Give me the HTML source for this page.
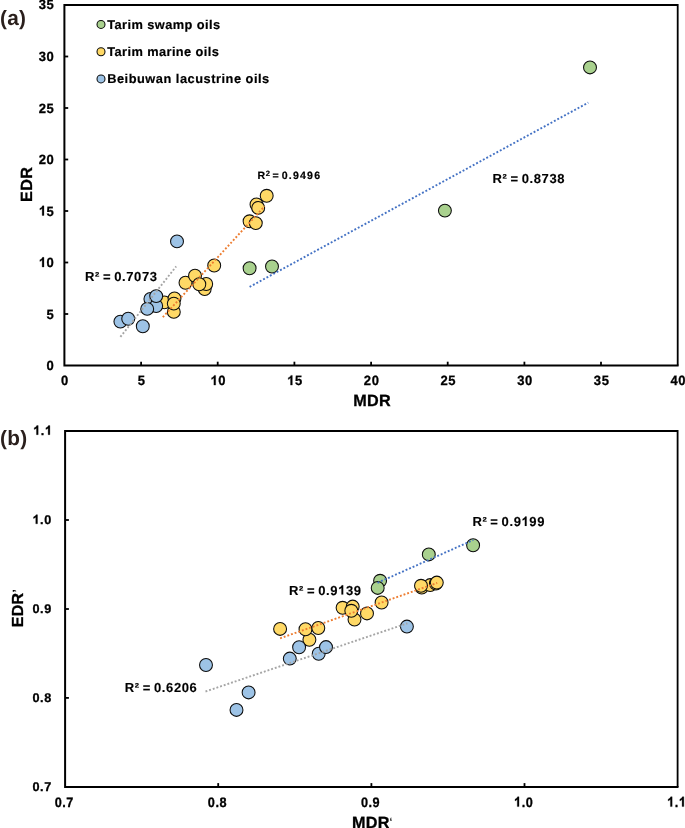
<!DOCTYPE html>
<html><head><meta charset="utf-8"><title>EDR vs MDR</title>
<style>
html,body{margin:0;padding:0;background:#fff;}
body{width:685px;height:828px;overflow:hidden;}
svg{display:block;will-change:transform;text-rendering:geometricPrecision;font-family:"Liberation Sans",sans-serif;font-weight:bold;}
</style></head><body>
<svg width="685" height="828" viewBox="0 0 685 828">
<rect width="685" height="828" fill="#fff"/>
<path d="M64.4,5.0 H677.7 V365.5" fill="none" stroke="#000" stroke-width="1.8"/>
<path d="M64.4,4.1 V365.5 H678.6" fill="none" stroke="#000" stroke-width="2.0" stroke-linejoin="miter"/>
<line x1="141.1" y1="365.5" x2="141.1" y2="361.7" stroke="#000" stroke-width="1.8"/>
<line x1="217.7" y1="365.5" x2="217.7" y2="361.7" stroke="#000" stroke-width="1.8"/>
<line x1="294.4" y1="365.5" x2="294.4" y2="361.7" stroke="#000" stroke-width="1.8"/>
<line x1="371.1" y1="365.5" x2="371.1" y2="361.7" stroke="#000" stroke-width="1.8"/>
<line x1="447.7" y1="365.5" x2="447.7" y2="361.7" stroke="#000" stroke-width="1.8"/>
<line x1="524.4" y1="365.5" x2="524.4" y2="361.7" stroke="#000" stroke-width="1.8"/>
<line x1="601.0" y1="365.5" x2="601.0" y2="361.7" stroke="#000" stroke-width="1.8"/>
<line x1="64.4" y1="314.0" x2="68.2" y2="314.0" stroke="#000" stroke-width="1.8"/>
<line x1="64.4" y1="262.5" x2="68.2" y2="262.5" stroke="#000" stroke-width="1.8"/>
<line x1="64.4" y1="211.0" x2="68.2" y2="211.0" stroke="#000" stroke-width="1.8"/>
<line x1="64.4" y1="159.5" x2="68.2" y2="159.5" stroke="#000" stroke-width="1.8"/>
<line x1="64.4" y1="108.0" x2="68.2" y2="108.0" stroke="#000" stroke-width="1.8"/>
<line x1="64.4" y1="56.5" x2="68.2" y2="56.5" stroke="#000" stroke-width="1.8"/>
<text transform="translate(65.00,385.10) scale(1,1.04)" font-size="13" text-anchor="middle" letter-spacing="0.55" fill="#000" stroke="#000" stroke-width="0.28">0</text>
<text transform="translate(141.66,385.10) scale(1,1.04)" font-size="13" text-anchor="middle" letter-spacing="0.55" fill="#000" stroke="#000" stroke-width="0.28">5</text>
<path transform="translate(210.55,385.10) scale(0.00635,0.00660)" d="M806,0H525V-1059Q371,-915 162,-846V-1101Q272,-1137 401,-1237.5Q530,-1338 578,-1472H806Z" fill="#000" stroke="#000" stroke-width="44.1"/>
<text transform="translate(218.33,385.10) scale(1,1.04)" font-size="13" text-anchor="start" letter-spacing="0.55" fill="#000" stroke="#000" stroke-width="0.28">0</text>
<path transform="translate(287.21,385.10) scale(0.00635,0.00660)" d="M806,0H525V-1059Q371,-915 162,-846V-1101Q272,-1137 401,-1237.5Q530,-1338 578,-1472H806Z" fill="#000" stroke="#000" stroke-width="44.1"/>
<text transform="translate(294.99,385.10) scale(1,1.04)" font-size="13" text-anchor="start" letter-spacing="0.55" fill="#000" stroke="#000" stroke-width="0.28">5</text>
<text transform="translate(371.65,385.10) scale(1,1.04)" font-size="13" text-anchor="middle" letter-spacing="0.55" fill="#000" stroke="#000" stroke-width="0.28">20</text>
<text transform="translate(448.31,385.10) scale(1,1.04)" font-size="13" text-anchor="middle" letter-spacing="0.55" fill="#000" stroke="#000" stroke-width="0.28">25</text>
<text transform="translate(524.98,385.10) scale(1,1.04)" font-size="13" text-anchor="middle" letter-spacing="0.55" fill="#000" stroke="#000" stroke-width="0.28">30</text>
<text transform="translate(601.64,385.10) scale(1,1.04)" font-size="13" text-anchor="middle" letter-spacing="0.55" fill="#000" stroke="#000" stroke-width="0.28">35</text>
<text transform="translate(678.30,385.10) scale(1,1.04)" font-size="13" text-anchor="middle" letter-spacing="0.55" fill="#000" stroke="#000" stroke-width="0.28">40</text>
<text transform="translate(54.40,370.00) scale(1,1.03)" font-size="13" text-anchor="end" letter-spacing="0.55" fill="#000" stroke="#000" stroke-width="0.28">0</text>
<text transform="translate(54.40,318.50) scale(1,1.03)" font-size="13" text-anchor="end" letter-spacing="0.55" fill="#000" stroke="#000" stroke-width="0.28">5</text>
<path transform="translate(38.84,267.00) scale(0.00635,0.00654)" d="M806,0H525V-1059Q371,-915 162,-846V-1101Q272,-1137 401,-1237.5Q530,-1338 578,-1472H806Z" fill="#000" stroke="#000" stroke-width="44.1"/>
<text transform="translate(46.62,267.00) scale(1,1.03)" font-size="13" text-anchor="start" letter-spacing="0.55" fill="#000" stroke="#000" stroke-width="0.28">0</text>
<path transform="translate(38.84,215.50) scale(0.00635,0.00654)" d="M806,0H525V-1059Q371,-915 162,-846V-1101Q272,-1137 401,-1237.5Q530,-1338 578,-1472H806Z" fill="#000" stroke="#000" stroke-width="44.1"/>
<text transform="translate(46.62,215.50) scale(1,1.03)" font-size="13" text-anchor="start" letter-spacing="0.55" fill="#000" stroke="#000" stroke-width="0.28">5</text>
<text transform="translate(54.40,164.00) scale(1,1.03)" font-size="13" text-anchor="end" letter-spacing="0.55" fill="#000" stroke="#000" stroke-width="0.28">20</text>
<text transform="translate(54.40,112.50) scale(1,1.03)" font-size="13" text-anchor="end" letter-spacing="0.55" fill="#000" stroke="#000" stroke-width="0.28">25</text>
<text transform="translate(54.40,61.00) scale(1,1.03)" font-size="13" text-anchor="end" letter-spacing="0.55" fill="#000" stroke="#000" stroke-width="0.28">30</text>
<text transform="translate(54.40,8.80) scale(1,1.03)" font-size="13" text-anchor="end" letter-spacing="0.55" fill="#000" stroke="#000" stroke-width="0.28">35</text>
<text x="372.10" y="405.90" font-size="16.2" text-anchor="middle" letter-spacing="0.35" fill="#000" stroke="#000" stroke-width="0.3">MDR</text>
<text transform="translate(32.2,184.3) rotate(-90)" font-size="16.2" text-anchor="middle" letter-spacing="0.35" stroke="#000" stroke-width="0.3">EDR</text>
<text x="-0.10" y="25.00" font-size="20.8" text-anchor="start" letter-spacing="0.3" fill="#2a1f1c" >(a)</text>
<circle cx="164.4" cy="302.4" r="6.45" fill="#ffd966" stroke="#0c0c0c" stroke-width="1.05"/>
<circle cx="174.5" cy="298.4" r="6.45" fill="#ffd966" stroke="#0c0c0c" stroke-width="1.05"/>
<circle cx="173.8" cy="311.9" r="6.45" fill="#ffd966" stroke="#0c0c0c" stroke-width="1.05"/>
<circle cx="173.8" cy="303.6" r="6.45" fill="#ffd966" stroke="#0c0c0c" stroke-width="1.05"/>
<circle cx="185.5" cy="282.8" r="6.45" fill="#ffd966" stroke="#0c0c0c" stroke-width="1.05"/>
<circle cx="195.0" cy="275.7" r="6.45" fill="#ffd966" stroke="#0c0c0c" stroke-width="1.05"/>
<circle cx="204.7" cy="289.1" r="6.45" fill="#ffd966" stroke="#0c0c0c" stroke-width="1.05"/>
<circle cx="206.2" cy="284.0" r="6.45" fill="#ffd966" stroke="#0c0c0c" stroke-width="1.05"/>
<circle cx="199.3" cy="284.3" r="6.45" fill="#ffd966" stroke="#0c0c0c" stroke-width="1.05"/>
<circle cx="214.2" cy="265.5" r="6.45" fill="#ffd966" stroke="#0c0c0c" stroke-width="1.05"/>
<circle cx="249.6" cy="221.3" r="6.45" fill="#ffd966" stroke="#0c0c0c" stroke-width="1.05"/>
<circle cx="255.8" cy="223.1" r="6.45" fill="#ffd966" stroke="#0c0c0c" stroke-width="1.05"/>
<circle cx="256.5" cy="204.5" r="6.45" fill="#ffd966" stroke="#0c0c0c" stroke-width="1.05"/>
<circle cx="258.2" cy="207.9" r="6.45" fill="#ffd966" stroke="#0c0c0c" stroke-width="1.05"/>
<circle cx="266.7" cy="195.8" r="6.45" fill="#ffd966" stroke="#0c0c0c" stroke-width="1.05"/>
<circle cx="120.4" cy="321.6" r="6.45" fill="#9dc3e6" stroke="#0c0c0c" stroke-width="1.05"/>
<circle cx="128.2" cy="318.7" r="6.45" fill="#9dc3e6" stroke="#0c0c0c" stroke-width="1.05"/>
<circle cx="142.8" cy="326.3" r="6.45" fill="#9dc3e6" stroke="#0c0c0c" stroke-width="1.05"/>
<circle cx="150.4" cy="299.0" r="6.45" fill="#9dc3e6" stroke="#0c0c0c" stroke-width="1.05"/>
<circle cx="156.2" cy="306.0" r="6.45" fill="#9dc3e6" stroke="#0c0c0c" stroke-width="1.05"/>
<circle cx="156.2" cy="296.1" r="6.45" fill="#9dc3e6" stroke="#0c0c0c" stroke-width="1.05"/>
<circle cx="147.2" cy="308.9" r="6.45" fill="#9dc3e6" stroke="#0c0c0c" stroke-width="1.05"/>
<circle cx="177.0" cy="241.4" r="6.45" fill="#9dc3e6" stroke="#0c0c0c" stroke-width="1.05"/>
<circle cx="249.6" cy="268.3" r="6.45" fill="#a9d18e" stroke="#0c0c0c" stroke-width="1.05"/>
<circle cx="272.0" cy="266.5" r="6.45" fill="#a9d18e" stroke="#0c0c0c" stroke-width="1.05"/>
<circle cx="444.9" cy="210.6" r="6.45" fill="#a9d18e" stroke="#0c0c0c" stroke-width="1.05"/>
<circle cx="590.0" cy="67.4" r="6.45" fill="#a9d18e" stroke="#0c0c0c" stroke-width="1.05"/>
<line x1="120.4" y1="336.9" x2="176.2" y2="266.4" stroke="#a5a5a5" stroke-width="1.9" stroke-dasharray="1.9 1.95"/>
<line x1="162.8" y1="317.2" x2="264.6" y2="206.2" stroke="#ed7d31" stroke-width="1.9" stroke-dasharray="1.9 1.95"/>
<line x1="249.6" y1="286.9" x2="588.3" y2="102.6" stroke="#4472c4" stroke-width="1.9" stroke-dasharray="1.9 1.95"/>
<text x="85.00" y="281.40" font-size="13" text-anchor="start" letter-spacing="0.6" fill="#000" word-spacing="-1.15" stroke="#000" stroke-width="0.12">R² = 0.7073</text>
<text x="492.50" y="183.30" font-size="13" text-anchor="start" letter-spacing="0.6" fill="#000" word-spacing="-1.15" stroke="#000" stroke-width="0.12">R² = 0.8738</text>
<text x="257.5" y="179.1" font-size="10.6" letter-spacing="1.2" word-spacing="-2.3" stroke="#000" stroke-width="0.2">R<tspan font-size="7.6" dy="-3.4" dx="-0.6" letter-spacing="0.6">2</tspan><tspan dy="3.4"> = 0.9496</tspan></text>
<circle cx="101.0" cy="24.4" r="4.0" fill="#a9d18e" stroke="#0c0c0c" stroke-width="1.05"/>
<text x="107.20" y="28.55" font-size="12.8" text-anchor="start" letter-spacing="0.43" fill="#000" stroke="#000" stroke-width="0.2">Tarim swamp oils</text>
<circle cx="101.0" cy="51.7" r="4.0" fill="#ffd966" stroke="#0c0c0c" stroke-width="1.05"/>
<text x="107.20" y="55.85" font-size="12.8" text-anchor="start" letter-spacing="0.42" fill="#000" stroke="#000" stroke-width="0.2">Tarim marine oils</text>
<circle cx="101.0" cy="78.9" r="4.0" fill="#9dc3e6" stroke="#0c0c0c" stroke-width="1.05"/>
<text x="107.20" y="83.05" font-size="12.8" text-anchor="start" letter-spacing="0.52" fill="#000" stroke="#000" stroke-width="0.2">Beibuwan lacustrine oils</text>
<path d="M65.1,431.0 H677.6 V786.9" fill="none" stroke="#000" stroke-width="1.8"/>
<path d="M65.1,430.1 V786.9 H678.5" fill="none" stroke="#000" stroke-width="2.0" stroke-linejoin="miter"/>
<line x1="218.2" y1="786.9" x2="218.2" y2="783.1" stroke="#000" stroke-width="1.8"/>
<line x1="65.1" y1="697.9" x2="68.89999999999999" y2="697.9" stroke="#000" stroke-width="1.8"/>
<line x1="371.4" y1="786.9" x2="371.4" y2="783.1" stroke="#000" stroke-width="1.8"/>
<line x1="65.1" y1="609.0" x2="68.89999999999999" y2="609.0" stroke="#000" stroke-width="1.8"/>
<line x1="524.5" y1="786.9" x2="524.5" y2="783.1" stroke="#000" stroke-width="1.8"/>
<line x1="65.1" y1="520.0" x2="68.89999999999999" y2="520.0" stroke="#000" stroke-width="1.8"/>
<text transform="translate(64.30,806.60) scale(1,1.08)" font-size="12.7" text-anchor="middle" letter-spacing="0.55" fill="#000" stroke="#000" stroke-width="0.28">0.7</text>
<text x="51.80" y="791.05" font-size="12.7" text-anchor="end" letter-spacing="0.55" fill="#000" stroke="#000" stroke-width="0.28">0.7</text>
<text transform="translate(217.42,806.60) scale(1,1.08)" font-size="12.7" text-anchor="middle" letter-spacing="0.55" fill="#000" stroke="#000" stroke-width="0.28">0.8</text>
<text x="51.80" y="701.96" font-size="12.7" text-anchor="end" letter-spacing="0.55" fill="#000" stroke="#000" stroke-width="0.28">0.8</text>
<text transform="translate(370.55,806.60) scale(1,1.08)" font-size="12.7" text-anchor="middle" letter-spacing="0.55" fill="#000" stroke="#000" stroke-width="0.28">0.9</text>
<text x="51.80" y="612.88" font-size="12.7" text-anchor="end" letter-spacing="0.55" fill="#000" stroke="#000" stroke-width="0.28">0.9</text>
<path transform="translate(514.02,806.60) scale(0.00620,0.00670)" d="M806,0H525V-1059Q371,-915 162,-846V-1101Q272,-1137 401,-1237.5Q530,-1338 578,-1472H806Z" fill="#000" stroke="#000" stroke-width="45.2"/>
<text transform="translate(521.63,806.60) scale(1,1.08)" font-size="12.7" text-anchor="start" letter-spacing="0.55" fill="#000" stroke="#000" stroke-width="0.28">.0</text>
<path transform="translate(32.50,523.79) scale(0.00620,0.00620)" d="M806,0H525V-1059Q371,-915 162,-846V-1101Q272,-1137 401,-1237.5Q530,-1338 578,-1472H806Z" fill="#000" stroke="#000" stroke-width="45.2"/>
<text x="40.11" y="523.79" font-size="12.7" text-anchor="start" letter-spacing="0.55" fill="#000" stroke="#000" stroke-width="0.28">.0</text>
<path transform="translate(667.15,806.60) scale(0.00620,0.00670)" d="M806,0H525V-1059Q371,-915 162,-846V-1101Q272,-1137 401,-1237.5Q530,-1338 578,-1472H806Z" fill="#000" stroke="#000" stroke-width="45.2"/>
<text transform="translate(674.76,806.60) scale(1,1.08)" font-size="12.7" text-anchor="start" letter-spacing="0.55" fill="#000" stroke="#000" stroke-width="0.28">.</text>
<path transform="translate(678.84,806.60) scale(0.00620,0.00670)" d="M806,0H525V-1059Q371,-915 162,-846V-1101Q272,-1137 401,-1237.5Q530,-1338 578,-1472H806Z" fill="#000" stroke="#000" stroke-width="45.2"/>
<path transform="translate(33.20,434.70) scale(0.00620,0.00620)" d="M806,0H525V-1059Q371,-915 162,-846V-1101Q272,-1137 401,-1237.5Q530,-1338 578,-1472H806Z" fill="#000" stroke="#000" stroke-width="45.2"/>
<text x="40.81" y="434.70" font-size="12.7" text-anchor="start" letter-spacing="0.55" fill="#000" stroke="#000" stroke-width="0.28">.</text>
<path transform="translate(44.89,434.70) scale(0.00620,0.00620)" d="M806,0H525V-1059Q371,-915 162,-846V-1101Q272,-1137 401,-1237.5Q530,-1338 578,-1472H806Z" fill="#000" stroke="#000" stroke-width="45.2"/>
<text x="370.90" y="827.80" font-size="16.2" text-anchor="middle" letter-spacing="0.35" fill="#000" stroke="#000" stroke-width="0.3">MDR</text>
<text x="389.50" y="825.00" font-size="10.5" text-anchor="start" letter-spacing="0" fill="#000" >‘</text>
<text transform="translate(23.2,610.0) rotate(-90)" font-size="16" text-anchor="middle" letter-spacing="0.3" stroke="#000" stroke-width="0.3">EDR</text>
<text transform="translate(20.6,592.6) rotate(-90)" font-size="12" text-anchor="start">’</text>
<text x="0.10" y="444.50" font-size="20.8" text-anchor="start" letter-spacing="0.3" fill="#2a1f1c" >(b)</text>
<circle cx="280.1" cy="628.9" r="6.45" fill="#ffd966" stroke="#0c0c0c" stroke-width="1.05"/>
<circle cx="309.4" cy="639.7" r="6.45" fill="#ffd966" stroke="#0c0c0c" stroke-width="1.05"/>
<circle cx="305.5" cy="629.2" r="6.45" fill="#ffd966" stroke="#0c0c0c" stroke-width="1.05"/>
<circle cx="318.3" cy="628.0" r="6.45" fill="#ffd966" stroke="#0c0c0c" stroke-width="1.05"/>
<circle cx="342.6" cy="607.8" r="6.45" fill="#ffd966" stroke="#0c0c0c" stroke-width="1.05"/>
<circle cx="352.7" cy="606.6" r="6.45" fill="#ffd966" stroke="#0c0c0c" stroke-width="1.05"/>
<circle cx="354.5" cy="619.6" r="6.45" fill="#ffd966" stroke="#0c0c0c" stroke-width="1.05"/>
<circle cx="351.3" cy="610.8" r="6.45" fill="#ffd966" stroke="#0c0c0c" stroke-width="1.05"/>
<circle cx="367.0" cy="613.4" r="6.45" fill="#ffd966" stroke="#0c0c0c" stroke-width="1.05"/>
<circle cx="381.6" cy="602.5" r="6.45" fill="#ffd966" stroke="#0c0c0c" stroke-width="1.05"/>
<circle cx="421.7" cy="587.6" r="6.45" fill="#ffd966" stroke="#0c0c0c" stroke-width="1.05"/>
<circle cx="430.2" cy="585.1" r="6.45" fill="#ffd966" stroke="#0c0c0c" stroke-width="1.05"/>
<circle cx="435.9" cy="583.5" r="6.45" fill="#ffd966" stroke="#0c0c0c" stroke-width="1.05"/>
<circle cx="421.0" cy="585.8" r="6.45" fill="#ffd966" stroke="#0c0c0c" stroke-width="1.05"/>
<circle cx="436.8" cy="582.6" r="6.45" fill="#ffd966" stroke="#0c0c0c" stroke-width="1.05"/>
<circle cx="206.0" cy="665.0" r="6.45" fill="#9dc3e6" stroke="#0c0c0c" stroke-width="1.05"/>
<circle cx="248.6" cy="692.4" r="6.45" fill="#9dc3e6" stroke="#0c0c0c" stroke-width="1.05"/>
<circle cx="236.5" cy="709.9" r="6.45" fill="#9dc3e6" stroke="#0c0c0c" stroke-width="1.05"/>
<circle cx="289.8" cy="658.6" r="6.45" fill="#9dc3e6" stroke="#0c0c0c" stroke-width="1.05"/>
<circle cx="299.1" cy="647.2" r="6.45" fill="#9dc3e6" stroke="#0c0c0c" stroke-width="1.05"/>
<circle cx="318.7" cy="653.7" r="6.45" fill="#9dc3e6" stroke="#0c0c0c" stroke-width="1.05"/>
<circle cx="326.0" cy="647.1" r="6.45" fill="#9dc3e6" stroke="#0c0c0c" stroke-width="1.05"/>
<circle cx="406.9" cy="626.6" r="6.45" fill="#9dc3e6" stroke="#0c0c0c" stroke-width="1.05"/>
<circle cx="380.1" cy="580.8" r="6.45" fill="#a9d18e" stroke="#0c0c0c" stroke-width="1.05"/>
<circle cx="377.7" cy="587.9" r="6.45" fill="#a9d18e" stroke="#0c0c0c" stroke-width="1.05"/>
<circle cx="428.8" cy="554.4" r="6.45" fill="#a9d18e" stroke="#0c0c0c" stroke-width="1.05"/>
<circle cx="473.1" cy="545.2" r="6.45" fill="#a9d18e" stroke="#0c0c0c" stroke-width="1.05"/>
<line x1="205.5" y1="691.5" x2="407.4" y2="623.3" stroke="#a5a5a5" stroke-width="1.9" stroke-dasharray="1.9 1.95"/>
<line x1="280.1" y1="638.3" x2="437.2" y2="582.9" stroke="#ed7d31" stroke-width="1.9" stroke-dasharray="1.9 1.95"/>
<line x1="377.5" y1="582.8" x2="473.3" y2="540.0" stroke="#4472c4" stroke-width="1.9" stroke-dasharray="1.9 1.95"/>
<text x="124.80" y="692.00" font-size="13" text-anchor="start" letter-spacing="0.6" fill="#000" word-spacing="-1.15" stroke="#000" stroke-width="0.12">R² = 0.6206</text>
<text x="289.00" y="594.60" font-size="13" text-anchor="start" letter-spacing="0.6" fill="#000" word-spacing="-1.15" stroke="#000" stroke-width="0.12">R² = 0.9</text>
<path transform="translate(338.11,594.60) scale(0.00635,0.00635)" d="M806,0H525V-1059Q371,-915 162,-846V-1101Q272,-1137 401,-1237.5Q530,-1338 578,-1472H806Z" fill="#000" stroke="#000" stroke-width="18.9"/>
<text x="345.93" y="594.60" font-size="13" text-anchor="start" letter-spacing="0.6" fill="#000" word-spacing="-1.15" stroke="#000" stroke-width="0.12">39</text>
<text x="472.40" y="525.90" font-size="13" text-anchor="start" letter-spacing="0.6" fill="#000" word-spacing="-1.15" stroke="#000" stroke-width="0.12">R² = 0.9</text>
<path transform="translate(521.50,525.90) scale(0.00635,0.00635)" d="M806,0H525V-1059Q371,-915 162,-846V-1101Q272,-1137 401,-1237.5Q530,-1338 578,-1472H806Z" fill="#000" stroke="#000" stroke-width="18.9"/>
<text x="529.33" y="525.90" font-size="13" text-anchor="start" letter-spacing="0.6" fill="#000" word-spacing="-1.15" stroke="#000" stroke-width="0.12">99</text>
</svg>
</body></html>
